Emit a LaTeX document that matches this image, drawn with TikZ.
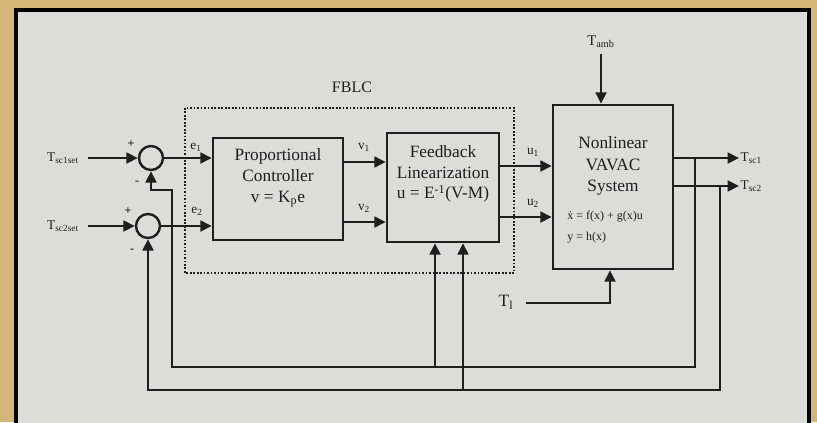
\documentclass[tikz,border=0pt]{standalone}
\usepackage{fontspec}
\setmainfont{Liberation Serif}
\usetikzlibrary{arrows.meta}
\definecolor{bgtan}{HTML}{D6B676}
\definecolor{paper}{HTML}{DCDDD8}
\definecolor{ink}{HTML}{1E1E1E}
\begin{document}
\begin{tikzpicture}[x=0.75pt,y=-0.75pt,
  blk/.style={draw=ink, line width=1.9pt, fill=paper, inner sep=0pt},
  arr/.style={draw=ink, line width=2pt, -{Triangle[length=8.5pt,width=8pt]}},
  sumc/.style={circle, draw=ink, line width=1.8pt, minimum size=18pt, inner sep=0pt},
  lbl/.style={font=\fontsize{10}{11}\selectfont, inner sep=1pt, text=ink},
  sgn/.style={font=\fontsize{9}{10}\selectfont\bfseries, inner sep=0pt, text=ink},
  txt/.style={font=\fontsize{13}{15.5}\selectfont, align=center, text=ink, inner sep=0pt},
  eqn/.style={font=\fontsize{9}{10}\selectfont, text=ink, inner sep=0pt, anchor=west}]
\useasboundingbox (0,0) rectangle (817,422);
\fill[bgtan] (0,0) rectangle (817,422);
\begin{scope}
  \clip (0,0) rectangle (817,422);
  \draw[line width=3.5pt, draw=black, fill=paper] (16,10) rectangle (809,440);
\end{scope}

% FBLC dotted region
\draw[ink, line width=1.8pt, dash pattern=on 1.3pt off 1.3pt] (185,108) rectangle (514,273);
\node[txt, font=\fontsize{12}{14}\selectfont] (fblc) at (352,87) {FBLC};

% blocks
\node[blk, minimum width=97.5pt, minimum height=76.5pt] (pc) at (278,189) {};
\node[txt] (pctext) at (278,178) {Proportional\\Controller\\v = K\textsubscript{p}e};
\node[blk, minimum width=84pt, minimum height=81.75pt] (fl) at (443,187.5) {};
\node[txt] (fltext) at (443,174) {Feedback\\Linearization\\u = E\textsuperscript{-1}(V-M)};
\node[blk, minimum width=90pt, minimum height=123pt] (sys) at (613,187) {};
\node[txt, font=\fontsize{13}{16}\selectfont] (systext) at (613,166) {Nonlinear\\VAVAC\\System};
\node[eqn] (eq1) at (567,217) {\.{x} = f(x) + g(x)u};
\node[eqn] (eq2) at (567,238) {y = h(x)};

% summing junctions
\node[sumc] (sum1) at (151,158) {};
\node[sumc] (sum2) at (148,226) {};
\node[sgn] (p1) at (131,144) {+};
\node[sgn] (m1) at (137,183) {-};
\node[sgn] (p2) at (128,211) {+};
\node[sgn] (m2) at (132,251) {-};

% inputs
\node[lbl] (in1) at (63,158) {T\textsubscript{sc1set}};
\node[lbl] (in2) at (63,226) {T\textsubscript{sc2set}};
\draw[arr, shorten <=6pt] (in1.east) -- (sum1.west);
\draw[arr, shorten <=6pt] (in2.east) -- (sum2.west);

% errors
\draw[arr] (sum1.east) -- (sum1.east -| pc.west);
\draw[arr] (sum2.east) -- (sum2.east -| pc.west);
\node[lbl] (e1) at (196,147) {e\textsubscript{1}};
\node[lbl] (e2) at (197,211) {e\textsubscript{2}};

% v signals
\coordinate (yv1) at (0,162);
\coordinate (yv2) at (0,222);
\draw[arr] (pc.east |- yv1) -- (fl.west |- yv1);
\draw[arr] (pc.east |- yv2) -- (fl.west |- yv2);
\node[lbl] (v1) at (364,147) {v\textsubscript{1}};
\node[lbl] (v2) at (364,208) {v\textsubscript{2}};

% u signals
\coordinate (yu1) at (0,166);
\coordinate (yu2) at (0,217);
\draw[arr] (fl.east |- yu1) -- (sys.west |- yu1);
\draw[arr] (fl.east |- yu2) -- (sys.west |- yu2);
\node[lbl] (u1) at (533,152) {u\textsubscript{1}};
\node[lbl] (u2) at (533,203) {u\textsubscript{2}};

% disturbances
\node[lbl, font=\fontsize{11}{12}\selectfont] (tamb) at (601,42) {T\textsubscript{amb}};
\draw[arr, shorten <=3pt] (tamb.south) -- (tamb.south |- sys.north);
\node[lbl, font=\fontsize{13}{14}\selectfont] (tl) at (506,302) {T\textsubscript{l}};
\coordinate (tlc) at (610,303);
\draw[arr, shorten <=8pt] (tl.east |- tlc) -- (tlc) -- (tlc |- sys.south);

% outputs
\node[lbl, anchor=west] (out1) at (739,158) {T\textsubscript{sc1}};
\node[lbl, anchor=west] (out2) at (739,186) {T\textsubscript{sc2}};
\draw[arr] (sys.east |- out1.west) -- (out1.west);
\draw[arr] (sys.east |- out2.west) -- (out2.west);

% feedback paths
\coordinate (j1) at (695,158);
\coordinate (j2) at (720,186);
\coordinate (b1) at (435,367);
\coordinate (b2) at (463,390);
\draw[arr] (j1) -- (695,367) -- (172,367) -- (172,190) -| (sum1.south);
\draw[arr] (j2) -- (720,390) -| (sum2.south);
\draw[arr] (b1) -- (b1 |- fl.south);
\draw[arr] (b2) -- (b2 |- fl.south);
\end{tikzpicture}
\end{document}
